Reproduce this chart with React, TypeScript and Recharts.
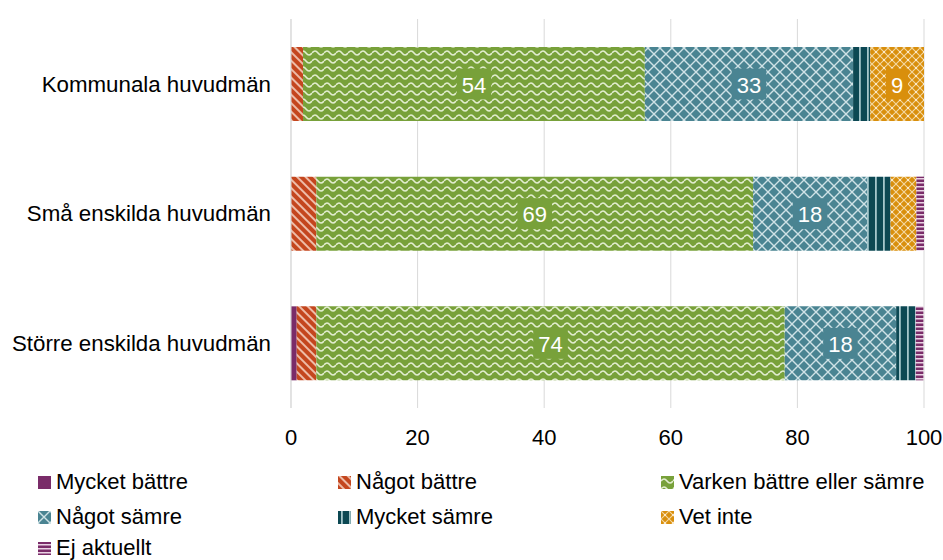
import React from 'react';
import { BarChart, Bar, XAxis, YAxis, CartesianGrid, Legend, LabelList } from 'recharts';

const categories = ['Kommunala huvudmän', 'Små enskilda huvudmän', 'Större enskilda huvudmän'];
const seriesNames = [
  'Mycket bättre',
  'Något bättre',
  'Varken bättre eller sämre',
  'Något sämre',
  'Mycket sämre',
  'Vet inte',
  'Ej aktuellt',
];
const mycketBattre = [0, 0, 0.9];
const nagotBattre = [1.9, 4, 3.1];
const varken = [54, 69, 74];
const nagotSamre = [32.9, 18, 17.6];
const mycketSamre = [2.7, 3.7, 3.1];
const vetInte = [8.5, 4.1, 0];
const ejAktuellt = [0, 1.2, 1.2];
const xTicks = [0, 20, 40, 60, 80, 100];

const FONT = "Arial, 'Liberation Sans', sans-serif";

const series = [
  { key: 'mb', values: mycketBattre, color: '#7A2C69', pattern: 'p-mb' },
  { key: 'nb', values: nagotBattre, color: '#C4461E', pattern: 'p-nb' },
  { key: 'vb', values: varken, color: '#78A13A', pattern: 'p-vb' },
  { key: 'ns', values: nagotSamre, color: '#4A8492', pattern: 'p-ns' },
  { key: 'ms', values: mycketSamre, color: '#0C4853', pattern: 'p-ms' },
  { key: 'vi', values: vetInte, color: '#D98F0C', pattern: 'p-vi' },
  { key: 'ea', values: ejAktuellt, color: '#7A2C69', pattern: 'p-ea' },
].map((s, i) => ({ ...s, name: seriesNames[i] }));

const data = categories.map((category, i) => {
  const row: Record<string, any> = { category };
  series.forEach((s) => {
    row[s.key] = s.values[i];
  });
  return row;
});

// SVG fill patterns, referenced by id from the bars and the legend icons
const Patterns = () => (
  <svg width={0} height={0} style={{ position: 'absolute' }}>
    <defs>
      <pattern id="p-mb" width="4" height="4" patternUnits="userSpaceOnUse">
        <rect width="4" height="4" fill="#7A2C69" />
      </pattern>
      <pattern id="p-nb" width="6" height="6" patternUnits="userSpaceOnUse" patternTransform="rotate(-45)">
        <rect width="6" height="6" fill="#C4461E" />
        <rect width="2" height="6" fill="#EDBCA8" />
      </pattern>
      <pattern id="p-vb" width="12" height="8" patternUnits="userSpaceOnUse">
        <rect width="12" height="8" fill="#78A13A" />
        <path d="M0 5 Q3 1 6 5 T12 5" stroke="#E2EDCF" strokeWidth="1.6" fill="none" />
      </pattern>
      <pattern id="p-ns" width="12" height="12" patternUnits="userSpaceOnUse">
        <rect width="12" height="12" fill="#4A8492" />
        <path d="M0 0L12 12M12 0L0 12" stroke="#CFE2E6" strokeWidth="1.4" fill="none" />
      </pattern>
      <pattern id="p-ms" width="8" height="8" patternUnits="userSpaceOnUse">
        <rect width="8" height="8" fill="#0C4853" />
        <rect x="3" width="1.8" height="8" fill="#A4C6CB" />
      </pattern>
      <pattern id="p-vi" width="8" height="8" patternUnits="userSpaceOnUse">
        <rect width="8" height="8" fill="#D98F0C" />
        <path d="M0 0L8 8M8 0L0 8" stroke="#F4D8A2" strokeWidth="1.1" fill="none" />
        <rect x="3" y="3" width="2" height="2" fill="#FBE9C8" />
      </pattern>
      <pattern id="p-ea" width="4" height="4" patternUnits="userSpaceOnUse">
        <rect width="4" height="4" fill="#7A2C69" />
        <rect y="2" width="4" height="1.5" fill="#EAD3E4" />
      </pattern>
    </defs>
  </svg>
);

const makeLabel = (color: string) => (props: any) => {
  const { x, y, width, height, value } = props;
  if (value == null || value < 8) return null;
  const text = String(Math.round(value));
  const w = text.length * 12.3 + 10;
  const h = 31;
  const cx = x + width / 2;
  const cy = y + height / 2;
  return (
    <g>
      <rect x={cx - w / 2} y={cy - h / 2} width={w} height={h} fill={color} />
      <text x={cx} y={cy + 1} fill="#fff" textAnchor="middle" dominantBaseline="central" fontSize={22} fontFamily={FONT}>
        {text}
      </text>
    </g>
  );
};

const colLeft = [38, 338, 661];
const rowCenter = [17, 52, 83];

const LegendContent = () => (
  <div style={{ position: 'relative', width: 943, height: 95, fontFamily: FONT }}>
    {series.map((s, i) => (
      <div
        key={s.key}
        style={{
          position: 'absolute',
          left: colLeft[i % 3],
          top: rowCenter[Math.floor(i / 3)] - 12,
          height: 24,
          lineHeight: '24px',
          display: 'flex',
          alignItems: 'center',
          fontSize: 22,
          color: '#000',
          whiteSpace: 'nowrap',
        }}
      >
        <svg width={13} height={13} style={{ marginRight: 5 }}>
          <rect x={0} y={0} width={13} height={13} fill={`url(#${s.pattern})`} />
        </svg>
        {s.name}
      </div>
    ))}
  </div>
);

export default function App() {
  return (
    <div style={{ position: 'absolute', left: 0, top: 0, width: 943, height: 560, background: '#fff', fontFamily: FONT }}>
      <Patterns />
      <BarChart
        width={943}
        height={560}
        data={data}
        layout="vertical"
        margin={{ top: 19, right: 19, bottom: 27, left: 0 }}
        style={{ fontFamily: FONT }}
      >
        <CartesianGrid horizontal={false} stroke="#D9D9D9" />
        <XAxis
          type="number"
          domain={[0, 100]}
          ticks={xTicks}
          axisLine={false}
          tickLine={false}
          tickSize={0}
          tickMargin={21}
          tick={{ fill: '#000', fontSize: 22 }}
          height={30}
        />
        <YAxis
          type="category"
          dataKey="category"
          width={291}
          axisLine={{ stroke: '#D9D9D9' }}
          tickLine={false}
          tickSize={0}
          tickMargin={20}
          tick={{ fill: '#000', fontSize: 22.3 }}
        />
        <Legend
          verticalAlign="bottom"
          height={95}
          content={<LegendContent />}
          wrapperStyle={{ left: 0, top: 465, bottom: 'auto', width: 943 }}
        />
        {series.map((s) => (
          <Bar
            key={s.key}
            dataKey={s.key}
            name={s.name}
            stackId="a"
            barSize={74}
            fill={`url(#${s.pattern})`}
            isAnimationActive={false}
          >
            <LabelList dataKey={s.key} content={makeLabel(s.color)} />
          </Bar>
        ))}
      </BarChart>
    </div>
  );
}
